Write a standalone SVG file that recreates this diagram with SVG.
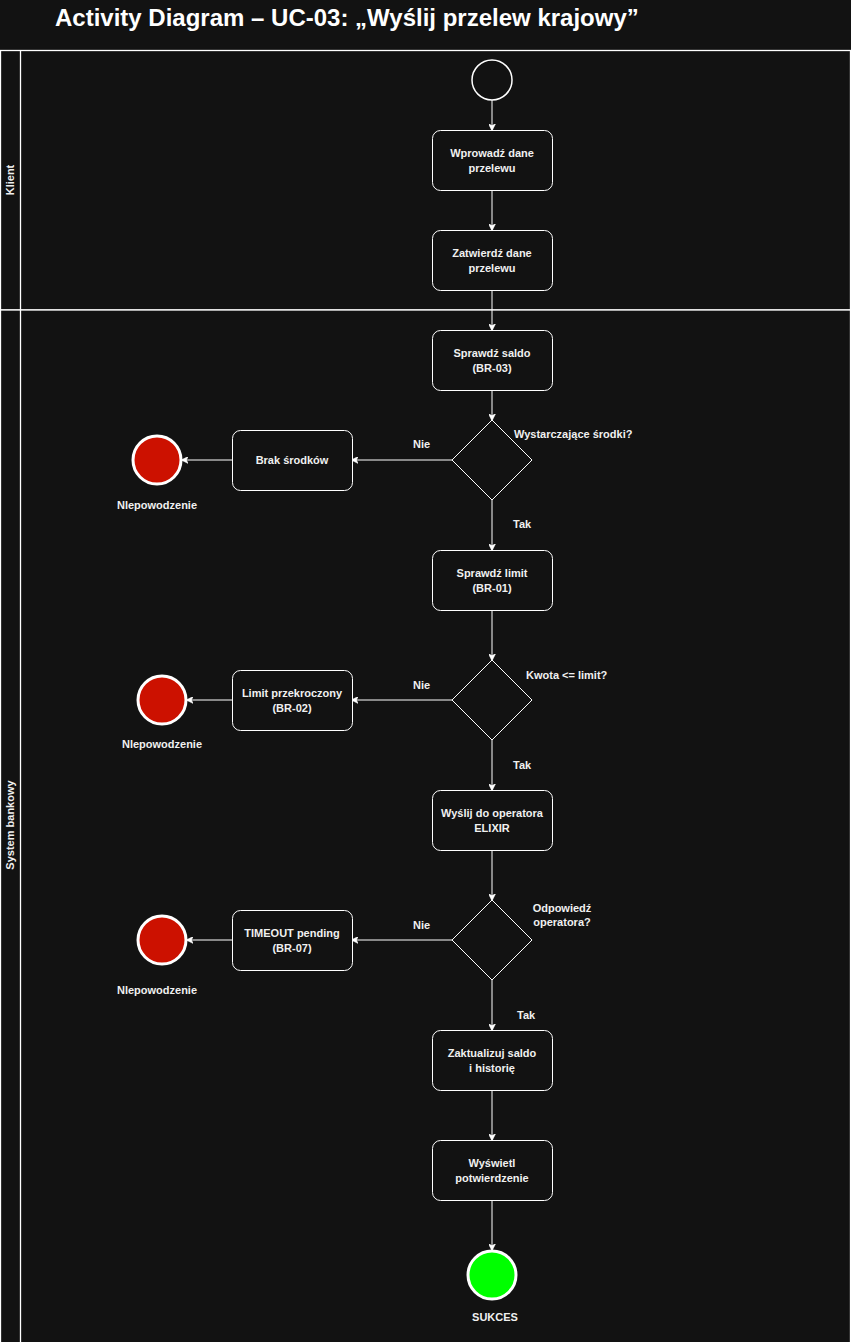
<svg xmlns="http://www.w3.org/2000/svg" width="851" height="1342" viewBox="0 0 851 1342">
  <style>
    .bg { fill: #121212; }
    .lane { fill: #121212; stroke: #ffffff; stroke-width: 1.3; }
    .act { fill: #121212; stroke: #ffffff; stroke-width: 1; }
    .dec { fill: #121212; stroke: #ffffff; stroke-width: 1; }
    .edge { fill: none; stroke: #ffffff; stroke-width: 1; marker-end: url(#arr); }
    .end-fail { fill: #cc1100; stroke: #ffffff; stroke-width: 3; }
    .end-ok { fill: #00ff00; stroke: #ffffff; stroke-width: 3; }
    .start { fill: #121212; stroke: #ffffff; stroke-width: 1.5; }
    text { font-family: "Liberation Sans", Arial, sans-serif; fill: #f0f0f0; font-size: 11px; }
    .c { text-anchor: middle; }
    .b { font-weight: bold; }
    .title { font-size: 24px; font-weight: bold; fill: #ffffff; }
  </style>
  <defs>
    <marker id="arr" viewBox="0 0 10 10" refX="9" refY="5" markerWidth="7" markerHeight="7" markerUnits="userSpaceOnUse" orient="auto">
      <path d="M0,0 L10,5 L0,10 L3,5 Z" fill="#ffffff" stroke="#ffffff" stroke-width="1"/>
    </marker>
  </defs>

  <rect class="bg" x="0" y="0" width="851" height="1342"/>
  <text class="title" x="55" y="26">Activity Diagram – UC-03: „Wyślij przelew krajowy”</text>

  <!-- swimlanes -->
  <g id="lane-klient">
    <rect class="lane" x="0.5" y="50.5" width="850" height="259.5"/>
    <line x1="20.5" y1="50.5" x2="20.5" y2="310" stroke="#ffffff" stroke-width="1.3"/>
    <text class="c b" transform="translate(14,180) rotate(-90)">Klient</text>
  </g>
  <g id="lane-system">
    <rect class="lane" x="0.5" y="310" width="850" height="1040"/>
    <line x1="20.5" y1="310" x2="20.5" y2="1342" stroke="#ffffff" stroke-width="1.3"/>
    <text class="c b" transform="translate(14,825) rotate(-90)">System bankowy</text>
  </g>

  <!-- connectors -->
  <g id="connectors">
    <line class="edge" x1="492" y1="100" x2="492" y2="130"/>
    <line class="edge" x1="492" y1="190" x2="492" y2="230"/>
    <line class="edge" x1="492" y1="290" x2="492" y2="330"/>
    <line class="edge" x1="492" y1="390" x2="492" y2="420"/>
    <line class="edge" x1="452" y1="460" x2="352" y2="460"/>
    <line class="edge" x1="232" y1="460" x2="182" y2="460"/>
    <line class="edge" x1="492" y1="500" x2="492" y2="550"/>
    <line class="edge" x1="492" y1="610" x2="492" y2="660"/>
    <line class="edge" x1="452" y1="700" x2="352" y2="700"/>
    <line class="edge" x1="232" y1="700" x2="187" y2="700"/>
    <line class="edge" x1="492" y1="740" x2="492" y2="790"/>
    <line class="edge" x1="492" y1="850" x2="492" y2="900"/>
    <line class="edge" x1="452" y1="940" x2="352" y2="940"/>
    <line class="edge" x1="232" y1="940" x2="187" y2="940"/>
    <line class="edge" x1="492" y1="980" x2="492" y2="1030"/>
    <line class="edge" x1="492" y1="1090" x2="492" y2="1140"/>
    <line class="edge" x1="492" y1="1200" x2="492" y2="1250"/>
    <text class="b" x="413" y="448">Nie</text>
    <text class="b" x="513" y="528">Tak</text>
    <text class="b" x="413" y="689">Nie</text>
    <text class="b" x="513" y="769">Tak</text>
    <text class="b" x="413" y="929">Nie</text>
    <text class="b" x="517" y="1019">Tak</text>
  </g>

  <!-- nodes -->
  <g id="start">
    <circle class="start" cx="492" cy="80" r="20"/>
  </g>
  <g id="wprowadz">
    <rect class="act" x="432.5" y="130.5" width="120" height="60" rx="8"/>
    <text class="c b" x="492" y="157">Wprowadź dane</text>
    <text class="c b" x="492" y="172">przelewu</text>
  </g>
  <g id="zatwierdz">
    <rect class="act" x="432.5" y="230.5" width="120" height="60" rx="8"/>
    <text class="c b" x="492" y="257">Zatwierdź dane</text>
    <text class="c b" x="492" y="272">przelewu</text>
  </g>
  <g id="sprawdz-saldo">
    <rect class="act" x="432.5" y="330.5" width="120" height="60" rx="8"/>
    <text class="c b" x="492" y="357">Sprawdź saldo</text>
    <text class="c b" x="492" y="372">(BR-03)</text>
  </g>
  <g id="dec-srodki">
    <path class="dec" d="M492,420 L532,460 L492,500 L452,460 Z"/>
    <text class="b" x="514" y="438">Wystarczające środki?</text>
  </g>
  <g id="brak-srodkow">
    <rect class="act" x="232.5" y="430.5" width="120" height="60" rx="8"/>
    <text class="c b" x="292" y="464">Brak środków</text>
  </g>
  <g id="end-fail-1">
    <circle class="end-fail" cx="157" cy="460" r="24"/>
    <text class="c b" x="157" y="509">Nlepowodzenie</text>
  </g>
  <g id="sprawdz-limit">
    <rect class="act" x="432.5" y="550.5" width="120" height="60" rx="8"/>
    <text class="c b" x="492" y="577">Sprawdź limit</text>
    <text class="c b" x="492" y="592">(BR-01)</text>
  </g>
  <g id="dec-limit">
    <path class="dec" d="M492,660 L532,700 L492,740 L452,700 Z"/>
    <text class="b" x="526" y="679">Kwota &lt;= limit?</text>
  </g>
  <g id="limit-przekroczony">
    <rect class="act" x="232.5" y="670.5" width="120" height="60" rx="8"/>
    <text class="c b" x="292" y="697">Limit przekroczony</text>
    <text class="c b" x="292" y="712">(BR-02)</text>
  </g>
  <g id="end-fail-2">
    <circle class="end-fail" cx="162" cy="700" r="24"/>
    <text class="c b" x="162" y="748">Nlepowodzenie</text>
  </g>
  <g id="wyslij">
    <rect class="act" x="432.5" y="790.5" width="120" height="60" rx="8"/>
    <text class="c b" x="492" y="817">Wyślij do operatora</text>
    <text class="c b" x="492" y="832">ELIXIR</text>
  </g>
  <g id="dec-operator">
    <path class="dec" d="M492,900 L532,940 L492,980 L452,940 Z"/>
    <text class="c b" x="562" y="912">Odpowiedź</text>
    <text class="c b" x="562" y="926">operatora?</text>
  </g>
  <g id="timeout">
    <rect class="act" x="232.5" y="910.5" width="120" height="60" rx="8"/>
    <text class="c b" x="292" y="937">TIMEOUT pending</text>
    <text class="c b" x="292" y="952">(BR-07)</text>
  </g>
  <g id="end-fail-3">
    <circle class="end-fail" cx="162" cy="940" r="24"/>
    <text class="c b" x="157" y="994">Nlepowodzenie</text>
  </g>
  <g id="zaktualizuj">
    <rect class="act" x="432.5" y="1030.5" width="120" height="60" rx="8"/>
    <text class="c b" x="492" y="1057">Zaktualizuj saldo</text>
    <text class="c b" x="492" y="1072">i historię</text>
  </g>
  <g id="wyswietl">
    <rect class="act" x="432.5" y="1140.5" width="120" height="60" rx="8"/>
    <text class="c b" x="492" y="1167">Wyświetl</text>
    <text class="c b" x="492" y="1182">potwierdzenie</text>
  </g>
  <g id="end-ok">
    <circle class="end-ok" cx="492" cy="1275" r="24"/>
    <text class="c b" x="495" y="1321">SUKCES</text>
  </g>
</svg>
